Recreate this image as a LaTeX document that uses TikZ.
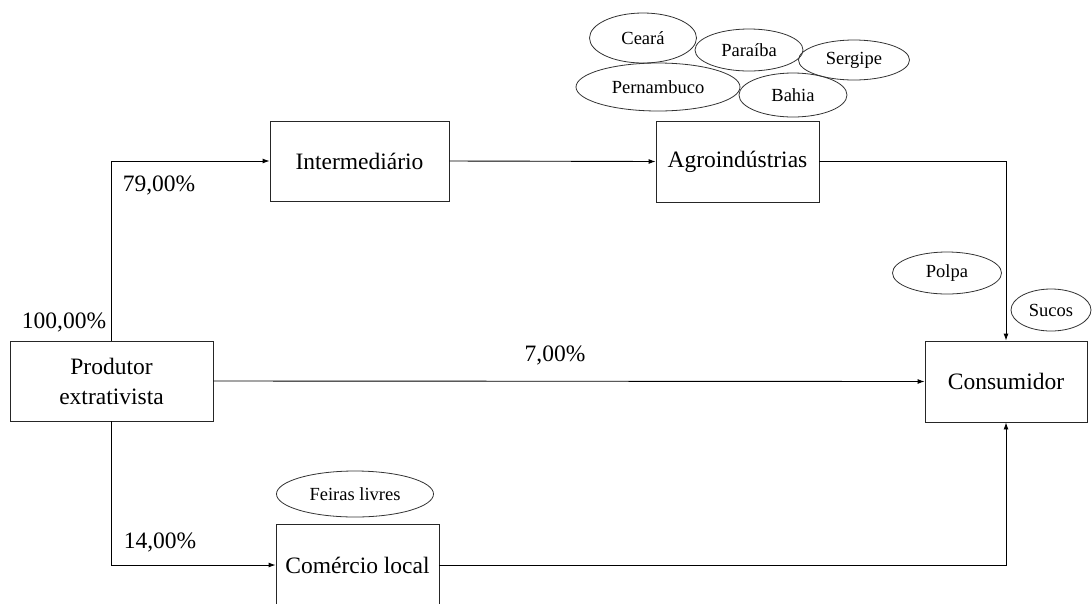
\documentclass[tikz,border=0pt]{standalone}
\usepackage{fontspec}
\setmainfont{Liberation Serif}
\usetikzlibrary{arrows.meta,shapes.geometric}
\begin{document}
\begin{tikzpicture}[x=1pt,y=-1pt,
  box/.style={draw=black!85, line width=0.9pt, rectangle, inner sep=0pt, font=\fontsize{23.5}{30}\selectfont, align=center},
  ell/.style={draw=black!80, line width=0.8pt, ellipse, inner sep=0pt, font=\fontsize{18.5}{22}\selectfont},
  pct/.style={font=\fontsize{23.5}{28}\selectfont, inner sep=0pt},
  flow/.style={line width=0.9pt, -{Latex[length=7pt,width=5pt]}}]
\useasboundingbox (0,0) rectangle (1092,603);
\clip (0,0) rectangle (1092,603);
\node[box, minimum width=203pt, minimum height=80pt] (prod) at (111.5,381) {Produtor\\extrativista};
\node[box, minimum width=179pt, minimum height=80pt] (inter) at (359.5,161) {Intermedi\'ario};
\node[box, minimum width=163pt, minimum height=81pt] (agro) at (737.5,161.5) {Agroind\'ustrias};
\node[box, minimum width=162pt, minimum height=81pt] (cons) at (1006,381.5) {Consumidor};
\node[box, minimum width=163pt, minimum height=82pt] (com) at (357.5,565) {Com\'ercio local};

\node[ell, minimum width=107pt, minimum height=50pt] (ce) at (643,38) {Cear\'a};
\node[ell, minimum width=108pt, minimum height=42pt] (pb) at (749,50) {Para\'iba};
\node[ell, minimum width=111pt, minimum height=40pt] (se) at (854,60) {Sergipe};
\node[ell, minimum width=164pt, minimum height=48pt] (pe) at (658,87) {Pernambuco};
\node[ell, minimum width=108pt, minimum height=44pt] (ba) at (793,95) {Bahia};
\node[ell, minimum width=109pt, minimum height=42pt] (po) at (947,273) {Polpa};
\node[ell, minimum width=80pt, minimum height=42pt] (su) at (1051,310) {Sucos};
\node[ell, minimum width=157pt, minimum height=46pt] (fe) at (355,494) {Feiras livres};

\node[pct] (p100) at (64,322) {100,00\%};
\node[pct] (p79) at (159,185) {79,00\%};
\node[pct] (p14) at (160,542) {14,00\%};
\node[pct] (p7) at (555,355) {7,00\%};

\draw[flow] (prod.north) |- (inter.west);
\draw[flow] (inter.east) -- (agro.west);
\draw[flow] (agro.east) -| (cons.north);
\draw[flow] (prod.east) -- (cons.west);
\draw[flow] (prod.south) |- (com.west);
\draw[flow] (com.east) -| (cons.south);
\end{tikzpicture}
\end{document}
